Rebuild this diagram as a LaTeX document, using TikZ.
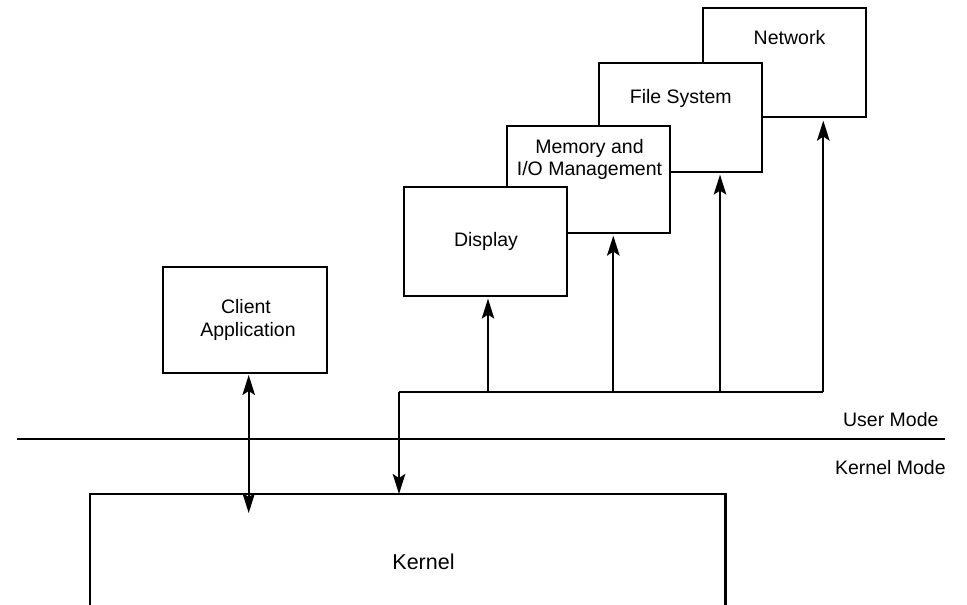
\documentclass[tikz,border=0pt]{standalone}
\usepackage{fontspec}
\setmainfont{Liberation Sans}
\usetikzlibrary{arrows.meta}
\begin{document}
\begin{tikzpicture}[x=1pt,y=-1pt,
  box/.style={draw=black,line width=2.2pt,fill=white,inner sep=0pt},
  txt/.style={inner sep=0pt,anchor=base,font=\fontsize{19.5}{22.5}\selectfont},
  line/.style={line width=2.2pt},
  arr/.style={line width=2.2pt,-{Stealth[length=20pt,width=12.5pt,inset=4pt]}},
  darr/.style={line width=2.2pt,{Stealth[length=20pt,width=12.5pt,inset=4pt]}-{Stealth[length=20pt,width=12.5pt,inset=4pt]}}]
\useasboundingbox (0,0) rectangle (967,605);
% stacked boxes (back to front)
\node[box,minimum width=163pt,minimum height=109pt] (net) at (784.5,62.5) {};
\node[txt] (netT) at (789.5,45) {Network};
\node[box,minimum width=163pt,minimum height=109pt] (fs) at (680.5,117.5) {};
\node[txt] (fsT) at (680.8,103.3) {File System};
\node[box,minimum width=163pt,minimum height=107pt] (mem) at (588.5,179.5) {};
\node[txt] (memT1) at (589.5,153.3) {Memory and};
\node[txt] (memT2) at (589.5,175.7) {I/O Management};
\node[box,minimum width=163pt,minimum height=109pt] (disp) at (485.5,241.5) {};
\node[txt] (dispT) at (486,246.7) {Display};
% client
\node[box,minimum width=164pt,minimum height=106pt] (cli) at (245,320) {};
\node[txt] (cliT1) at (246,313.3) {Client};
\node[txt] (cliT2) at (248,336) {Application};
% kernel (open at the bottom)
\coordinate (kTL) at (90,494);
\coordinate (kTR) at (725.5,494);
\coordinate (kBL) at (90,606);
\coordinate (kBR) at (725.5,606);
\draw[line] (kBL) -- (kTL) -- (kTR) -- (kBR);
\node[txt,font=\fontsize{21.5}{24}\selectfont] (kerT) at (423.5,569) {Kernel};
% mode separator
\coordinate (sepL) at (17,439.3);
\coordinate (sepR) at (945,439.3);
\draw[line] (sepL) -- (sepR);
\node[txt] (um) at (890.8,426.7) {User Mode};
\node[txt] (km) at (890.4,474) {Kernel Mode};
% bus
\coordinate (bL) at (399,392);
\coordinate (b1) at (488,392);
\coordinate (b2) at (613.3,392);
\coordinate (b3) at (720,392);
\coordinate (bR) at (823.3,392);
\draw[line] (bL) -- (bR);
\draw[arr,shorten >=1.5pt] (b1) -- (b1 |- disp.south);
\draw[arr,shorten >=1.5pt] (b2) -- (b2 |- mem.south);
\draw[arr,shorten >=1.5pt] (b3) -- (b3 |- fs.south);
\draw[arr,shorten >=2.5pt] (bR) -- (bR |- net.south);
\draw[arr] (bL) -- (bL |- kTL);
% client <-> kernel
\coordinate (cA) at (248.7,375);
\coordinate (cB) at (248.7,513);
\draw[darr] (cA) -- (cB);
\end{tikzpicture}
\end{document}
